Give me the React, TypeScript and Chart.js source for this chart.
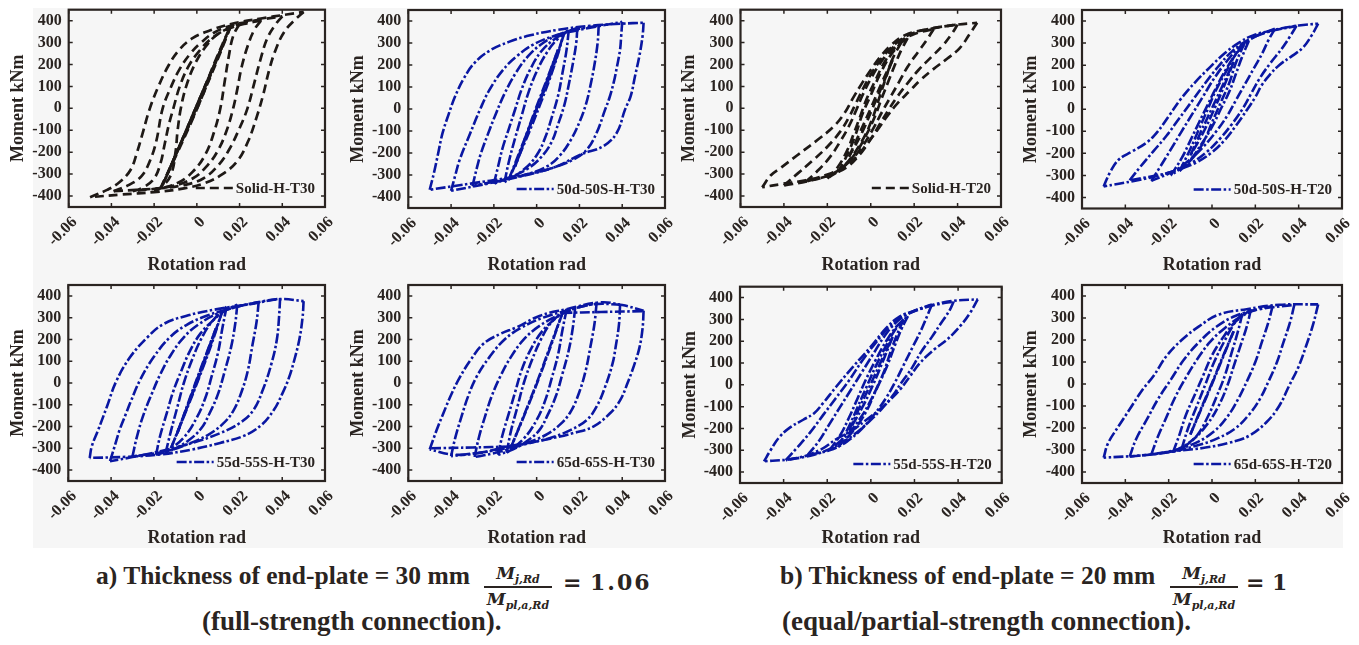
import React, { useEffect, useRef } from 'react';
import { Chart, registerables } from 'chart.js';

Chart.register(...registerables);

type Pt = [number, number];

// ---------- axes ----------
const xTickValues = [-0.06, -0.04, -0.02, 0, 0.02, 0.04, 0.06];
const yTickValues = [-400, -300, -200, -100, 0, 100, 200, 300, 400];
const xTitle = 'Rotation rad';
const yTitle = 'Moment kNm';

// ---------- data: each inner array is one half-cycle branch [rotation, moment] ----------
const solidT30: Pt[][] = [
  [[-0.050,-405],[-0.042,-372],[-0.036,-335],[-0.031,-280],[-0.028,-200],[-0.025,-100],[-0.022,0],[-0.018,100],[-0.013,200],[-0.008,270],[-0.002,320],[0.006,355],[0.016,385],[0.030,410],[0.042,428],[0.050,440]],
  [[0.050,440],[0.046,405],[0.041,350],[0.037,270],[0.034,180],[0.031,60],[0.028,-40],[0.024,-150],[0.019,-240],[0.012,-300],[0.004,-340],[-0.006,-365],[-0.020,-382],[-0.035,-393],[-0.050,-405]],
  [[-0.039,-378],[-0.032,-350],[-0.026,-310],[-0.022,-240],[-0.019,-150],[-0.016,0],[-0.012,100],[-0.008,180],[-0.003,250],[0.002,300],[0.008,345],[0.016,378],[0.027,400],[0.040,420]],
  [[0.040,420],[0.037,385],[0.033,320],[0.030,230],[0.027,120],[0.0237,0],[0.020,-90],[0.015,-190],[0.010,-260],[0.003,-320],[-0.006,-350],[-0.018,-365],[-0.039,-378]],
  [[-0.030,-378],[-0.025,-360],[-0.020,-320],[-0.017,-250],[-0.015,-160],[-0.013,-70],[-0.011,0],[-0.008,100],[-0.004,190],[0.001,260],[0.007,320],[0.014,360],[0.022,385],[0.030,400]],
  [[0.030,400],[0.027,360],[0.024,290],[0.021,190],[0.019,90],[0.017,0],[0.014,-100],[0.010,-190],[0.005,-260],[-0.002,-320],[-0.012,-355],[-0.030,-378]],
  [[-0.020,-375],[-0.016,-355],[-0.012,-300],[-0.010,-200],[-0.009,-100],[-0.0075,0],[-0.005,100],[-0.001,200],[0.004,280],[0.010,340],[0.020,385]],
  [[0.020,385],[0.017,330],[0.015,240],[0.013,120],[0.011,0],[0.008,-110],[0.004,-210],[-0.002,-290],[-0.009,-340],[-0.020,-375]],
  [[-0.017,-365],[-0.010,-215],[-0.004,-80],[0.002,60],[0.009,215],[0.016,378]],
  [[0.016,378],[0.010,230],[0.004,90],[-0.002,-50],[-0.009,-200],[-0.017,-365]],
  [[-0.016,-350],[-0.008,-170],[0.001,20],[0.008,190],[0.015,360]],
  [[0.015,360],[0.009,225],[0.003,80],[-0.003,-60],[-0.010,-215],[-0.016,-350]],
  [[-0.012,-260],[-0.003,-55],[0.006,150],[0.012,285]],
  [[0.012,285],[0.004,105],[-0.005,-100],[-0.012,-260]],
];

const d50s50T30: Pt[][] = [
  [[-0.050,-367],[-0.048,-290],[-0.046,-200],[-0.044,-110],[-0.041,-20],[-0.038,60],[-0.034,140],[-0.029,210],[-0.022,265],[-0.013,305],[-0.003,335],[0.010,360],[0.025,378],[0.040,388],[0.050,392]],
  [[0.050,392],[0.0495,330],[0.048,240],[0.046,150],[0.044,60],[0.0413,-3],[0.0374,-109],[0.031,-170],[0.021,-205],[0.0093,-261],[-0.0016,-291],[-0.014,-314],[-0.0296,-337],[-0.050,-367]],
  [[-0.040,-372],[-0.038,-300],[-0.036,-231],[-0.031,-109],[-0.0265,-3],[-0.022,88],[-0.0156,179],[-0.0093,240],[-0.0016,293],[0.0078,331],[0.0171,354],[0.028,375],[0.040,396]],
  [[0.040,396],[0.0395,330],[0.039,270],[0.0375,190],[0.036,120],[0.034,50],[0.032,-3],[0.028,-109],[0.0234,-185],[0.017,-231],[0.0047,-276],[-0.0078,-307],[-0.0218,-337],[-0.040,-372]],
  [[-0.030,-350],[-0.028,-270],[-0.026,-200],[-0.023,-120],[-0.019,-20],[-0.015,70],[-0.010,160],[-0.004,240],[0.003,300],[0.012,345],[0.020,365],[0.029,378]],
  [[0.029,378],[0.0285,300],[0.027,200],[0.025,100],[0.023,20],[0.020,-60],[0.016,-140],[0.011,-210],[0.005,-260],[-0.004,-295],[-0.015,-320],[-0.030,-350]],
  [[-0.020,-340],[-0.018,-260],[-0.016,-180],[-0.013,-90],[-0.010,0],[-0.007,90],[-0.003,180],[0.002,260],[0.008,315],[0.014,350],[0.019,368]],
  [[0.019,368],[0.0185,300],[0.017,210],[0.015,110],[0.013,20],[0.010,-70],[0.007,-150],[0.002,-220],[-0.004,-270],[-0.011,-305],[-0.020,-340]],
  [[-0.015,-332],[-0.013,-240],[-0.010,-130],[-0.007,-30],[-0.004,70],[0.000,170],[0.005,260],[0.010,320],[0.015,358]],
  [[0.015,358],[0.014,270],[0.012,160],[0.010,60],[0.007,-40],[0.004,-130],[0.000,-210],[-0.006,-275],[-0.015,-332]],
  [[-0.013,-320],[-0.007,-170],[0.000,0],[0.007,170],[0.013,350]],
  [[0.013,350],[0.008,190],[0.002,30],[-0.005,-140],[-0.013,-320]],
  [[-0.010,-260],[-0.004,-100],[0.003,80],[0.010,270]],
  [[0.010,270],[0.005,140],[-0.002,-40],[-0.010,-260]],
];

const solidT20: Pt[][] = [
  [[-0.050,-360],[-0.046,-305],[-0.041,-268],[-0.034,-215],[-0.024,-140],[-0.017,-82],[-0.012,-20],[-0.008,50],[-0.004,115],[0.000,175],[0.004,230],[0.009,285],[0.016,335],[0.027,362],[0.040,382],[0.049,390]],
  [[0.049,390],[0.0455,338],[0.041,275],[0.035,225],[0.029,180],[0.023,130],[0.018,80],[0.0125,25],[0.008,-30],[0.003,-100],[-0.002,-165],[-0.007,-225],[-0.013,-272],[-0.021,-305],[-0.030,-328],[-0.041,-345],[-0.050,-360]],
  [[-0.040,-352],[-0.034,-300],[-0.027,-240],[-0.020,-175],[-0.014,-105],[-0.010,-40],[-0.0065,30],[-0.003,100],[0.001,170],[0.006,240],[0.012,300],[0.020,345],[0.030,368],[0.040,382]],
  [[0.040,382],[0.037,335],[0.033,285],[0.028,235],[0.022,175],[0.017,115],[0.012,50],[0.008,-10],[0.004,-75],[0.000,-140],[-0.005,-210],[-0.011,-268],[-0.019,-305],[-0.029,-332],[-0.040,-352]],
  [[-0.030,-335],[-0.025,-290],[-0.019,-225],[-0.014,-150],[-0.010,-80],[-0.007,-15],[-0.004,55],[0.000,135],[0.005,215],[0.011,285],[0.019,335],[0.029,362]],
  [[0.029,362],[0.026,315],[0.022,260],[0.017,190],[0.013,120],[0.009,50],[0.005,-20],[0.001,-95],[-0.004,-175],[-0.010,-245],[-0.018,-300],[-0.030,-335]],
  [[-0.020,-320],[-0.015,-265],[-0.011,-195],[-0.008,-120],[-0.005,-40],[-0.002,40],[0.002,125],[0.006,205],[0.011,275],[0.017,320]],
  [[0.017,320],[0.014,265],[0.011,195],[0.008,120],[0.005,45],[0.002,-35],[-0.002,-120],[-0.007,-205],[-0.013,-270],[-0.020,-320]],
  [[-0.015,-290],[-0.011,-215],[-0.007,-120],[-0.004,-30],[0.000,60],[0.004,150],[0.009,240],[0.014,300]],
  [[0.014,300],[0.010,225],[0.007,140],[0.004,50],[0.001,-40],[-0.003,-130],[-0.009,-225],[-0.015,-290]],
  [[-0.010,-220],[-0.005,-110],[0.000,0],[0.005,115],[0.010,220]],
  [[0.010,220],[0.006,120],[0.001,5],[-0.004,-110],[-0.010,-220]],
];

const d50s50T20: Pt[][] = [
  [[-0.050,-350],[-0.047,-285],[-0.043,-228],[-0.037,-192],[-0.030,-150],[-0.025,-100],[-0.0195,-25],[-0.0145,45],[-0.008,120],[-0.001,190],[0.006,255],[0.0125,302],[0.019,335],[0.028,358],[0.040,380],[0.049,388]],
  [[0.049,388],[0.046,335],[0.042,280],[0.037,242],[0.031,200],[0.027,160],[0.023,110],[0.020,55],[0.016,-5],[0.011,-75],[0.006,-138],[0.000,-195],[-0.007,-240],[-0.015,-272],[-0.025,-302],[-0.036,-325],[-0.050,-350]],
  [[-0.038,-322],[-0.033,-260],[-0.027,-190],[-0.021,-120],[-0.015,-40],[-0.009,40],[-0.003,120],[0.003,195],[0.009,260],[0.016,310],[0.025,348],[0.039,378]],
  [[0.039,378],[0.036,330],[0.032,272],[0.027,210],[0.022,140],[0.018,70],[0.014,0],[0.009,-70],[0.004,-130],[-0.002,-190],[-0.009,-240],[-0.019,-285],[-0.038,-322]],
  [[-0.028,-325],[-0.024,-262],[-0.019,-182],[-0.014,-100],[-0.009,-20],[-0.004,60],[0.001,140],[0.007,220],[0.013,285],[0.020,330],[0.029,365]],
  [[0.029,365],[0.026,312],[0.023,250],[0.019,180],[0.015,110],[0.011,40],[0.007,-30],[0.002,-100],[-0.004,-170],[-0.011,-235],[-0.018,-282],[-0.028,-325]],
  [[-0.019,-300],[-0.014,-222],[-0.010,-142],[-0.006,-60],[-0.002,20],[0.002,100],[0.007,190],[0.012,262],[0.017,310]],
  [[0.017,310],[0.014,240],[0.011,160],[0.008,80],[0.004,0],[0.000,-80],[-0.005,-160],[-0.011,-240],[-0.019,-300]],
  [[-0.015,-280],[-0.010,-180],[-0.006,-90],[-0.002,0],[0.002,90],[0.007,180],[0.011,250],[0.015,300]],
  [[0.015,300],[0.011,210],[0.008,120],[0.004,30],[0.000,-60],[-0.004,-150],[-0.009,-222],[-0.015,-280]],
  [[-0.010,-210],[-0.005,-100],[0.000,5],[0.005,110],[0.010,215]],
  [[0.010,215],[0.006,115],[0.001,0],[-0.004,-105],[-0.010,-210]],
];

const d55s55T30: Pt[][] = [
  [[-0.050,-344],[-0.049,-290],[-0.046,-215],[-0.042,-110],[-0.0375,10],[-0.031,120],[-0.023,210],[-0.016,268],[-0.005,308],[0.009,338],[0.025,362],[0.039,385],[0.050,376]],
  [[0.050,376],[0.0495,300],[0.048,200],[0.0455,100],[0.043,20],[0.040,-50],[0.036,-125],[0.030,-195],[0.022,-243],[0.011,-275],[-0.002,-305],[-0.017,-328],[-0.033,-339],[-0.050,-344]],
  [[-0.0405,-359],[-0.038,-280],[-0.036,-215],[-0.033,-140],[-0.031,-90],[-0.0265,13],[-0.020,120],[-0.0125,210],[-0.005,265],[0.005,310],[0.017,345],[0.028,370],[0.039,388]],
  [[0.039,388],[0.0385,300],[0.0375,200],[0.035,90],[0.031,-30],[0.0265,-125],[0.020,-185],[0.011,-230],[-0.002,-275],[-0.017,-313],[-0.030,-340],[-0.0405,-359]],
  [[-0.030,-337],[-0.028,-250],[-0.025,-150],[-0.021,-50],[-0.017,40],[-0.012,130],[-0.006,210],[0.001,270],[0.010,320],[0.019,350],[0.029,372]],
  [[0.029,372],[0.028,280],[0.026,170],[0.024,60],[0.021,-40],[0.017,-130],[0.012,-190],[0.005,-240],[-0.004,-280],[-0.015,-315],[-0.030,-337]],
  [[-0.019,-330],[-0.017,-240],[-0.014,-140],[-0.011,-40],[-0.007,60],[-0.003,150],[0.002,230],[0.008,290],[0.013,330],[0.019,360]],
  [[0.019,360],[0.018,270],[0.016,160],[0.013,50],[0.010,-50],[0.006,-140],[0.002,-210],[-0.004,-265],[-0.011,-305],[-0.019,-330]],
  [[-0.0145,-320],[-0.012,-220],[-0.009,-110],[-0.006,0],[-0.002,110],[0.002,200],[0.007,280],[0.014,350]],
  [[0.014,350],[0.012,250],[0.010,140],[0.007,30],[0.004,-70],[0.000,-160],[-0.006,-250],[-0.0145,-320]],
  [[-0.012,-300],[-0.006,-150],[0.000,0],[0.006,160],[0.012,330]],
  [[0.012,330],[0.007,180],[0.001,20],[-0.005,-130],[-0.012,-300]],
  [[-0.009,-230],[-0.003,-70],[0.003,90],[0.009,250]],
  [[0.009,250],[0.003,95],[-0.003,-65],[-0.009,-230]],
];

const d65s65T30: Pt[][] = [
  [[-0.050,-305],[-0.0467,-215],[-0.0436,-139],[-0.0397,-48],[-0.0358,28],[-0.031,104],[-0.0249,180],[-0.0171,225],[-0.0093,256],[0.0016,309],[0.014,339],[0.0296,370],[0.040,358],[0.050,332]],
  [[0.050,332],[0.0495,250],[0.048,160],[0.0455,80],[0.0425,0],[0.039,-80],[0.0343,-139],[0.0265,-200],[0.0171,-230],[0.008,-252],[-0.004,-275],[-0.014,-292],[-0.0265,-321],[-0.039,-329],[-0.050,-305]],
  [[0.012,322],[0.030,326],[0.050,330]],
  [[-0.012,-292],[-0.030,-296],[-0.050,-300]],
  [[-0.040,-336],[-0.038,-250],[-0.035,-150],[-0.032,-60],[-0.028,30],[-0.022,120],[-0.015,200],[-0.007,255],[0.003,300],[0.015,335],[0.027,362],[0.039,360]],
  [[0.039,360],[0.0385,270],[0.037,170],[0.0355,90],[0.032,-18],[0.028,-109],[0.0234,-170],[0.016,-215],[0.007,-250],[-0.005,-280],[-0.020,-310],[-0.040,-336]],
  [[-0.029,-340],[-0.027,-250],[-0.024,-150],[-0.021,-60],[-0.017,30],[-0.012,120],[-0.006,200],[0.001,260],[0.010,310],[0.019,345],[0.028,365]],
  [[0.028,365],[0.027,270],[0.025,160],[0.023,60],[0.020,-40],[0.016,-130],[0.011,-190],[0.004,-240],[-0.006,-280],[-0.017,-315],[-0.029,-340]],
  [[-0.018,-330],[-0.016,-240],[-0.013,-140],[-0.010,-40],[-0.007,60],[-0.003,150],[0.002,230],[0.008,290],[0.013,325],[0.018,345]],
  [[0.018,345],[0.017,260],[0.015,150],[0.012,40],[0.009,-60],[0.005,-150],[0.001,-220],[-0.005,-270],[-0.011,-305],[-0.018,-330]],
  [[-0.014,-320],[-0.012,-220],[-0.009,-110],[-0.006,0],[-0.002,110],[0.002,200],[0.007,280],[0.014,338]],
  [[0.014,338],[0.012,240],[0.010,130],[0.007,20],[0.004,-80],[0.000,-170],[-0.006,-255],[-0.014,-320]],
  [[-0.012,-295],[-0.006,-150],[0.000,0],[0.006,160],[0.012,320]],
  [[0.012,320],[0.007,180],[0.001,20],[-0.005,-130],[-0.012,-295]],
];

const d55s55T20: Pt[][] = [
  [[-0.049,-351],[-0.046,-300],[-0.042,-240],[-0.037,-195],[-0.031,-160],[-0.026,-130],[-0.022,-85],[-0.016,-10],[-0.008,85],[0.000,175],[0.007,260],[0.013,312],[0.020,340],[0.029,368],[0.038,385],[0.049,392]],
  [[0.049,392],[0.0455,330],[0.041,270],[0.035,208],[0.029,162],[0.0225,100],[0.018,40],[0.0135,-20],[0.009,-67],[0.004,-113],[-0.002,-160],[-0.008,-205],[-0.016,-250],[-0.023,-297],[-0.034,-336],[-0.049,-351]],
  [[-0.039,-345],[-0.034,-290],[-0.028,-220],[-0.022,-140],[-0.016,-60],[-0.010,20],[-0.004,110],[0.002,190],[0.008,260],[0.014,310],[0.022,345],[0.030,368],[0.038,382]],
  [[0.038,382],[0.036,340],[0.032,280],[0.028,220],[0.023,150],[0.019,80],[0.014,10],[0.010,-50],[0.005,-110],[-0.001,-170],[-0.008,-230],[-0.016,-280],[-0.026,-320],[-0.039,-345]],
  [[-0.029,-322],[-0.024,-260],[-0.019,-180],[-0.014,-100],[-0.009,-20],[-0.004,60],[0.001,140],[0.006,220],[0.012,290],[0.019,335],[0.028,368]],
  [[0.028,368],[0.026,320],[0.023,250],[0.019,170],[0.015,90],[0.011,10],[0.007,-60],[0.002,-130],[-0.004,-200],[-0.011,-260],[-0.019,-300],[-0.029,-322]],
  [[-0.019,-300],[-0.014,-230],[-0.010,-150],[-0.006,-60],[-0.002,30],[0.002,110],[0.007,200],[0.012,270],[0.017,315]],
  [[0.017,315],[0.014,255],[0.011,180],[0.008,100],[0.004,10],[0.000,-70],[-0.004,-140],[-0.010,-220],[-0.019,-300]],
  [[-0.015,-285],[-0.010,-190],[-0.006,-100],[-0.002,-10],[0.002,80],[0.007,180],[0.011,250],[0.015,300]],
  [[0.015,300],[0.012,230],[0.009,150],[0.006,60],[0.002,-30],[-0.002,-120],[-0.008,-210],[-0.015,-285]],
  [[-0.010,-210],[-0.005,-100],[0.000,5],[0.005,115],[0.010,220]],
  [[0.010,220],[0.006,120],[0.001,0],[-0.004,-105],[-0.010,-210]],
];

const d65s65T20: Pt[][] = [
  [[-0.050,-335],[-0.048,-270],[-0.043,-190],[-0.038,-115],[-0.032,-25],[-0.027,36],[-0.021,127],[-0.014,200],[-0.006,262],[0.003,315],[0.016,340],[0.031,360],[0.049,362]],
  [[0.049,362],[0.0465,265],[0.0435,175],[0.040,80],[0.0355,-10],[0.031,-100],[0.025,-175],[0.017,-236],[0.008,-267],[-0.003,-289],[-0.017,-305],[-0.032,-324],[-0.050,-335]],
  [[-0.038,-330],[-0.035,-250],[-0.030,-160],[-0.025,-70],[-0.019,20],[-0.013,110],[-0.006,190],[0.002,260],[0.011,310],[0.022,340],[0.038,360]],
  [[0.038,360],[0.036,280],[0.033,190],[0.030,100],[0.026,10],[0.022,-70],[0.017,-140],[0.011,-200],[0.003,-245],[-0.007,-280],[-0.020,-310],[-0.038,-330]],
  [[-0.028,-320],[-0.025,-240],[-0.021,-150],[-0.017,-60],[-0.012,30],[-0.007,110],[-0.001,190],[0.006,255],[0.014,310],[0.021,340],[0.028,355]],
  [[0.028,355],[0.026,280],[0.023,190],[0.020,100],[0.016,10],[0.012,-70],[0.007,-150],[0.001,-215],[-0.007,-265],[-0.017,-300],[-0.028,-320]],
  [[-0.018,-310],[-0.015,-230],[-0.012,-140],[-0.008,-50],[-0.004,40],[0.000,130],[0.005,210],[0.010,275],[0.018,340]],
  [[0.018,340],[0.016,260],[0.013,170],[0.010,80],[0.007,-10],[0.003,-100],[-0.002,-180],[-0.009,-255],[-0.018,-310]],
  [[-0.014,-295],[-0.011,-200],[-0.007,-100],[-0.003,0],[0.001,100],[0.006,200],[0.010,270],[0.014,320]],
  [[0.014,320],[0.012,240],[0.009,140],[0.006,40],[0.002,-60],[-0.002,-150],[-0.007,-235],[-0.014,-295]],
  [[-0.010,-230],[-0.005,-115],[0.000,0],[0.005,120],[0.010,240]],
  [[0.010,240],[0.005,125],[0.000,5],[-0.005,-110],[-0.010,-230]],
];

// ---------- captions ----------
const captionA1 = 'a) Thickness of end-plate = 30 mm';
const captionA2 = '(full-strength connection).';
const ratioA = '1.06';
const captionB1 = 'b) Thickness of end-plate = 20 mm';
const captionB2 = '(equal/partial-strength connection).';
const ratioB = '1';
const fracNum = 'j,Rd';
const fracDen = 'pl,a,Rd';

// ---------- styles ----------
const INK = '#2a2421';
const BLACK = '#1e1916';
const BLUE = '#0a17a2';
const SERIF = '"Liberation Serif", "Times New Roman", serif';
const MATH = '"DejaVu Serif", serif';
const TITLE_SIZE = 18;
const BLACK_DASH = [9, 5];
const BLUE_DASH = [10, 2.5, 2.5, 2.5];

interface PanelSpec {
  label: string;
  branches: Pt[][];
  color: string;
  dash: number[];
  width: number;
  L: number; T: number; R: number; B: number;
  yTitleX: number; xTitleY: number;
}

const panels: PanelSpec[] = [
  { label: 'Solid-H-T30', branches: solidT30, color: BLACK, dash: BLACK_DASH, width: 2.7, L: 68.7, T: 9.7, R: 325, B: 207, yTitleX: 18.5, xTitleY: 265 },
  { label: '50d-50S-H-T30', branches: d50s50T30, color: BLUE, dash: BLUE_DASH, width: 2.6, L: 408.3, T: 10, R: 665, B: 208, yTitleX: 358.3, xTitleY: 265 },
  { label: 'Solid-H-T20', branches: solidT20, color: BLACK, dash: BLACK_DASH, width: 2.7, L: 740.5, T: 9.7, R: 1001, B: 207, yTitleX: 689.5, xTitleY: 265 },
  { label: '50d-50S-H-T20', branches: d50s50T20, color: BLUE, dash: BLUE_DASH, width: 2.6, L: 1082, T: 10, R: 1342, B: 208.5, yTitleX: 1031.5, xTitleY: 265 },
  { label: '55d-55S-H-T30', branches: d55s55T30, color: BLUE, dash: BLUE_DASH, width: 2.6, L: 68.3, T: 285, R: 325, B: 481, yTitleX: 18.3, xTitleY: 538 },
  { label: '65d-65S-H-T30', branches: d65s65T30, color: BLUE, dash: BLUE_DASH, width: 2.6, L: 408.3, T: 285, R: 665, B: 481, yTitleX: 358.3, xTitleY: 538 },
  { label: '55d-55S-H-T20', branches: d55s55T20, color: BLUE, dash: BLUE_DASH, width: 2.6, L: 740, T: 286.7, R: 1001.7, B: 483, yTitleX: 690, xTitleY: 538 },
  { label: '65d-65S-H-T20', branches: d65s65T20, color: BLUE, dash: BLUE_DASH, width: 2.6, L: 1082, T: 285, R: 1342, B: 483, yTitleX: 1031, xTitleY: 538 },
];

function framePlugin(spec: PanelSpec) {
  return {
    id: 'frame',
    afterDatasetsDraw(chart: any) {
      const { ctx, chartArea } = chart;
      const { left, top, right, bottom } = chartArea;
      const xs = chart.scales.x;
      const ys = chart.scales.y;
      ctx.save();
      ctx.setLineDash([]);
      ctx.strokeStyle = INK;
      ctx.lineWidth = 1.5;
      ctx.beginPath();
      for (const v of xTickValues) {
        const p = xs.getPixelForValue(v);
        ctx.moveTo(p, bottom); ctx.lineTo(p, bottom - 4);
        ctx.moveTo(p, top); ctx.lineTo(p, top + 4);
      }
      for (const v of yTickValues) {
        const p = ys.getPixelForValue(v);
        ctx.moveTo(left, p); ctx.lineTo(left + 4, p);
        ctx.moveTo(right, p); ctx.lineTo(right - 4, p);
      }
      ctx.stroke();
      ctx.lineWidth = 2.2;
      ctx.strokeRect(left, top, right - left, bottom - top);
      // legend
      ctx.font = `bold 15px ${SERIF}`;
      ctx.fillStyle = INK;
      ctx.textAlign = 'right';
      ctx.textBaseline = 'middle';
      const ly = bottom - 19;
      const tx = right - 10;
      const w = ctx.measureText(spec.label).width;
      ctx.fillText(spec.label, tx, ly + 1);
      ctx.strokeStyle = spec.color;
      ctx.lineWidth = spec.width;
      ctx.setLineDash(spec.dash);
      ctx.beginPath();
      ctx.moveTo(tx - w - 40, ly);
      ctx.lineTo(tx - w - 3, ly);
      ctx.stroke();
      ctx.restore();
    },
  };
}

function Panel({ spec }: { spec: PanelSpec }) {
  const ref = useRef<HTMLCanvasElement>(null);
  const cL = Math.floor(spec.L - 62);
  const cT = Math.floor(spec.T - 8);
  const cW = Math.ceil(spec.R + 14) - cL;
  const cH = Math.ceil(spec.xTitleY + 14) - cT;
  useEffect(() => {
    const half = (TITLE_SIZE * 1.2) / 2;
    const padLeft = spec.yTitleX - half - cL;
    const yW = spec.L - cL - padLeft;
    const padTop = spec.T - cT;
    const padRight = cW - (spec.R - cL);
    const xBottom = spec.xTitleY + half - cT;
    const padBottom = cH - xBottom;
    const xH = xBottom - (spec.B - cT);
    const tickFont = { family: SERIF, size: 16, weight: 'bold' as const };
    const titleFont = { family: SERIF, size: TITLE_SIZE, weight: 'bold' as const, lineHeight: 1.2 };
    const chart = new Chart(ref.current as HTMLCanvasElement, {
      type: 'scatter',
      data: {
        datasets: spec.branches.map((b) => ({
          data: b.map(([x, y]) => ({ x, y })),
          showLine: true,
          borderColor: spec.color,
          backgroundColor: spec.color,
          borderWidth: spec.width,
          borderDash: spec.dash,
          pointRadius: 0,
          pointHoverRadius: 0,
          tension: 0.4,
          fill: false,
        })),
      },
      options: {
        responsive: false,
        animation: false,
        devicePixelRatio: 1,
        events: [],
        layout: { padding: { left: padLeft, top: padTop, right: padRight, bottom: padBottom } },
        plugins: { legend: { display: false }, tooltip: { enabled: false } },
        scales: {
          x: {
            type: 'linear',
            min: -0.06,
            max: 0.06,
            afterBuildTicks: (s: any) => { s.ticks = xTickValues.map((v) => ({ value: v })); },
            afterFit: (s: any) => { s.height = xH; s.paddingLeft = 0; s.paddingRight = 0; },
            grid: { display: false, drawTicks: false },
            border: { display: false },
            ticks: {
              autoSkip: false,
              minRotation: 45,
              maxRotation: 45,
              padding: 6,
              labelOffset: 6,
              color: INK,
              font: tickFont,
              callback: (v: any) => (Math.abs(Number(v)) < 1e-9 ? '0' : Number(v).toFixed(2)),
            },
            title: { display: true, text: xTitle, color: INK, font: titleFont, padding: 0 },
          },
          y: {
            type: 'linear',
            min: -450,
            max: 450,
            afterBuildTicks: (s: any) => { s.ticks = yTickValues.map((v) => ({ value: v })); },
            afterFit: (s: any) => { s.width = yW; s.paddingTop = 0; s.paddingBottom = 0; },
            grid: { display: false, drawTicks: false },
            border: { display: false },
            ticks: {
              autoSkip: false,
              padding: 7,
              color: INK,
              font: tickFont,
              callback: (v: any) => String(Math.round(Number(v))),
            },
            title: { display: true, text: yTitle, color: INK, font: titleFont, padding: 0 },
          },
        },
      } as any,
      plugins: [framePlugin(spec)],
    });
    return () => chart.destroy();
  }, []);
  return (
    <canvas
      ref={ref}
      width={cW}
      height={cH}
      style={{ position: 'absolute', left: cL, top: cT, width: cW, height: cH }}
    />
  );
}

const abs: React.CSSProperties = { position: 'absolute', whiteSpace: 'nowrap', color: INK };

function Frac({ left, barY, width }: { left: number; barY: number; width: number }) {
  const m: React.CSSProperties = {
    ...abs, left, width, textAlign: 'center', fontFamily: MATH, fontStyle: 'italic',
    fontWeight: 'bold', fontSize: 17, lineHeight: '18px',
  };
  const sub: React.CSSProperties = { fontSize: 11, position: 'relative', top: 4 };
  return (
    <>
      <div style={{ ...m, top: barY - 23 }}>M<span style={sub}>{fracNum}</span></div>
      <div style={{ position: 'absolute', left, top: barY - 0.75, width, height: 1.5, background: INK }} />
      <div style={{ ...m, top: barY + 3 }}>M<span style={sub}>{fracDen}</span></div>
    </>
  );
}

function Caption({ x1, text1, text2, x2, fracX, eqX, valX, value }: any) {
  const line1: React.CSSProperties = { ...abs, fontFamily: SERIF, fontWeight: 'bold', fontSize: 25.5, lineHeight: '25.5px', top: 562.6 };
  const line2: React.CSSProperties = { ...abs, fontFamily: SERIF, fontWeight: 'bold', fontSize: 27, lineHeight: '27px', top: 608.4 };
  const math: React.CSSProperties = { ...abs, fontFamily: MATH, fontWeight: 'bold', fontSize: 22, lineHeight: '22px', top: 571 };
  return (
    <>
      <div style={{ ...line1, left: x1 }}>{text1}</div>
      <Frac left={fracX} barY={587} width={68} />
      <div style={{ ...math, left: eqX }}>=</div>
      <div style={{ ...math, left: valX, letterSpacing: 2 }}>{value}</div>
      <div style={{ ...line2, left: x2 }}>{text2}</div>
    </>
  );
}

export default function App() {
  return (
    <div style={{ position: 'absolute', left: 0, top: 0, width: 1359, height: 645, overflow: 'hidden', background: '#ffffff' }}>
      <div style={{ position: 'absolute', left: 33, top: 8, width: 1310, height: 540, background: '#f6f6f6' }} />
      {panels.map((p) => (
        <Panel key={p.label} spec={p} />
      ))}
      <Caption x1={96} text1={captionA1} fracX={484} eqX={563} valX={590} value={ratioA} x2={202} text2={captionA2} />
      <Caption x1={780} text1={captionB1} fracX={1170} eqX={1246} valX={1272} value={ratioB} x2={782} text2={captionB2} />
    </div>
  );
}
